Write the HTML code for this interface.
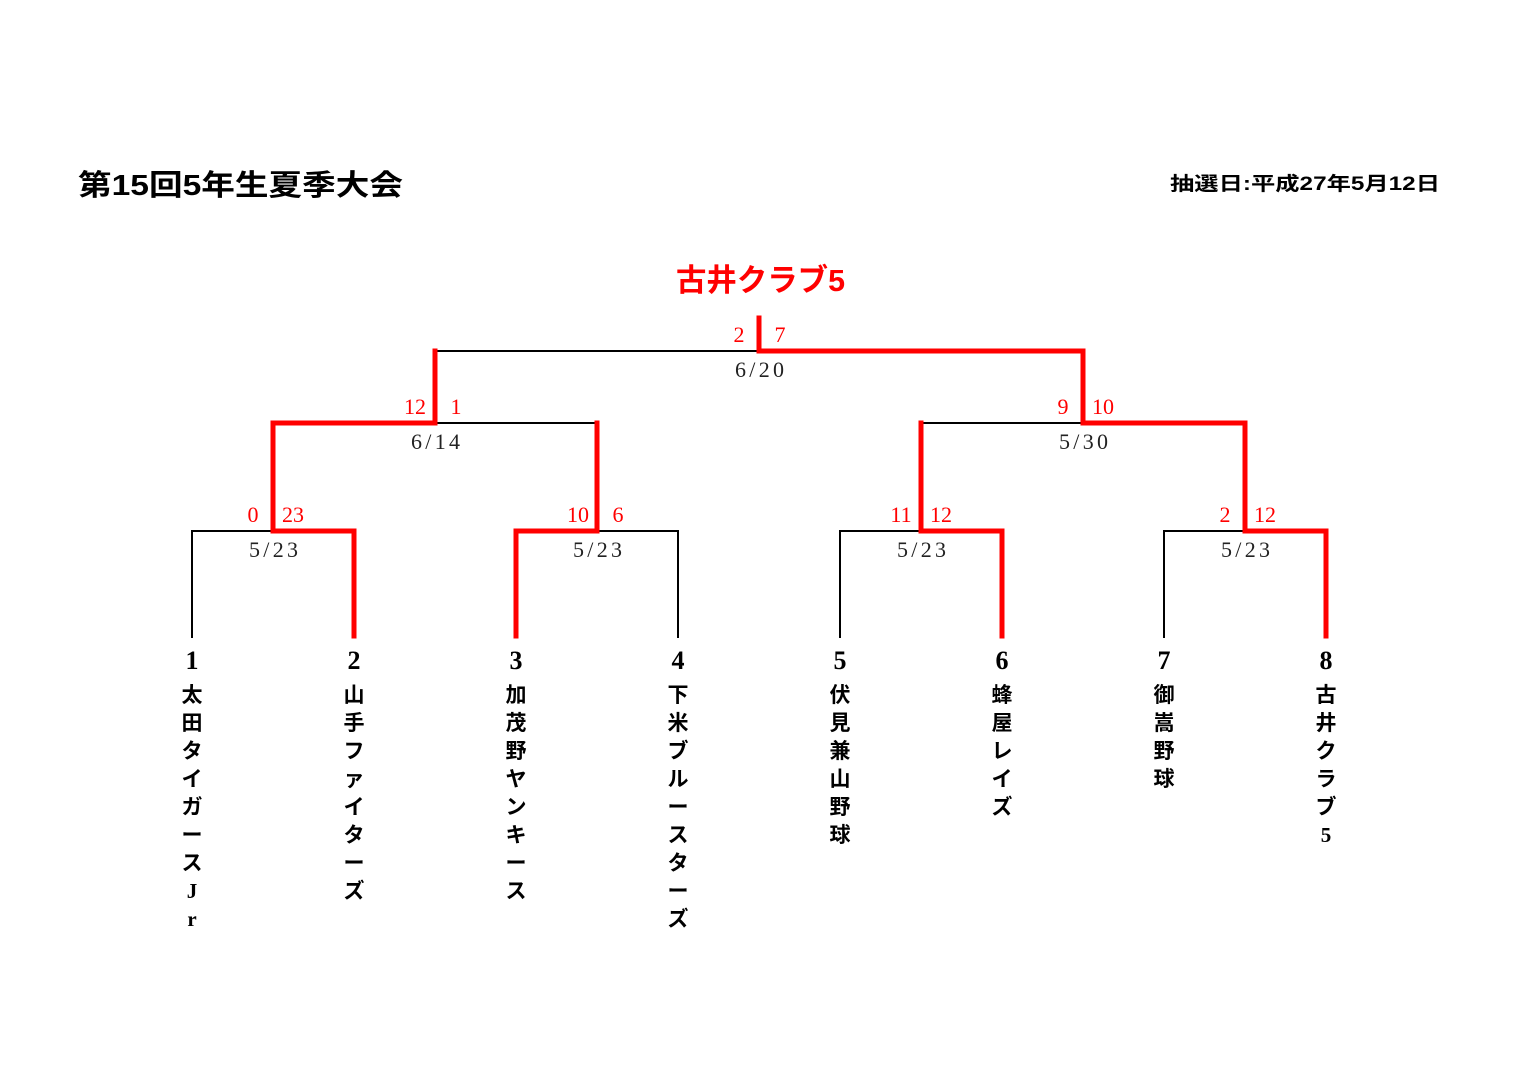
<!DOCTYPE html>
<html><head><meta charset="utf-8"><style>
html,body{margin:0;padding:0;background:#fff;width:1519px;height:1075px;overflow:hidden}
svg{display:block}
.g{font-family:"Liberation Sans","Noto Sans CJK JP",sans-serif;font-weight:bold}
.s{font-family:"Liberation Serif","Noto Serif CJK SC",serif}
</style></head><body>
<svg width="1519" height="1075" xmlns="http://www.w3.org/2000/svg">
<text x="78" y="195" class="g" font-size="29" textLength="325" lengthAdjust="spacingAndGlyphs">第15回5年生夏季大会</text>
<text x="1170" y="190" class="g" font-size="19" textLength="270" lengthAdjust="spacingAndGlyphs">抽選日:平成27年5月12日</text>
<text x="676" y="291" class="g" font-size="31" fill="#f00" textLength="169" lengthAdjust="spacingAndGlyphs">古井クラブ5</text>
<g stroke="#000" stroke-width="2" fill="none">
<path d="M435 351H759"/>
<path d="M597 423H435"/>
<path d="M921 423H1083"/>
<path d="M192 638V531H273"/>
<path d="M597 531H678V638"/>
<path d="M840 638V531H921"/>
<path d="M1164 638V531H1245"/>
</g>
<g stroke="#f00" stroke-width="5" fill="none" stroke-linecap="square">
<path d="M759 318V351H1083V423"/>
<path d="M435 351V423H273V531H354V636"/>
<path d="M597 423V531H516V636"/>
<path d="M1083 423H1245V531H1326V636"/>
<path d="M921 423V531H1002V636"/>
</g>
<g class="s" font-size="22" fill="#f00" text-anchor="middle">
<text x="739" y="342">2</text><text x="780" y="342">7</text>
<text x="415" y="414">12</text><text x="456" y="414">1</text>
<text x="1063" y="414">9</text><text x="1103" y="414">10</text>
<text x="253" y="522">0</text><text x="293" y="522">23</text>
<text x="578" y="522">10</text><text x="618" y="522">6</text>
<text x="901" y="522">11</text><text x="941" y="522">12</text>
<text x="1225" y="522">2</text><text x="1265" y="522">12</text>
</g>
<g class="s" font-size="22" fill="#222">
<text x="735" y="377" textLength="49">6/20</text>
<text x="411" y="449" textLength="49">6/14</text>
<text x="1059" y="449" textLength="49">5/30</text>
<text x="249" y="557" textLength="49">5/23</text>
<text x="573" y="557" textLength="49">5/23</text>
<text x="897" y="557" textLength="49">5/23</text>
<text x="1221" y="557" textLength="49">5/23</text>
</g>
<g class="s" font-size="26" font-weight="bold" text-anchor="middle">
<text x="192" y="669">1</text><text x="354" y="669">2</text><text x="516" y="669">3</text><text x="678" y="669">4</text>
<text x="840" y="669">5</text><text x="1002" y="669">6</text><text x="1164" y="669">7</text><text x="1326" y="669">8</text>
</g>
<g class="g" font-size="21" text-anchor="middle" fill="#000">
<text x="192" y="702">太</text><text x="192" y="730">田</text><text x="192" y="758">タ</text><text x="192" y="786">イ</text><text x="192" y="814">ガ</text><text x="192" y="842">ー</text><text x="192" y="870">ス</text><text x="192" y="898" class="s">J</text><text x="192" y="926" class="s">r</text>
<text x="354" y="702">山</text><text x="354" y="730">手</text><text x="354" y="758">フ</text><text x="354" y="786">ァ</text><text x="354" y="814">イ</text><text x="354" y="842">タ</text><text x="354" y="870">ー</text><text x="354" y="898">ズ</text>
<text x="516" y="702">加</text><text x="516" y="730">茂</text><text x="516" y="758">野</text><text x="516" y="786">ヤ</text><text x="516" y="814">ン</text><text x="516" y="842">キ</text><text x="516" y="870">ー</text><text x="516" y="898">ス</text>
<text x="678" y="702">下</text><text x="678" y="730">米</text><text x="678" y="758">ブ</text><text x="678" y="786">ル</text><text x="678" y="814">ー</text><text x="678" y="842">ス</text><text x="678" y="870">タ</text><text x="678" y="898">ー</text><text x="678" y="926">ズ</text>
<text x="840" y="702">伏</text><text x="840" y="730">見</text><text x="840" y="758">兼</text><text x="840" y="786">山</text><text x="840" y="814">野</text><text x="840" y="842">球</text>
<text x="1002" y="702">蜂</text><text x="1002" y="730">屋</text><text x="1002" y="758">レ</text><text x="1002" y="786">イ</text><text x="1002" y="814">ズ</text>
<text x="1164" y="702">御</text><text x="1164" y="730">嵩</text><text x="1164" y="758">野</text><text x="1164" y="786">球</text>
<text x="1326" y="702">古</text><text x="1326" y="730">井</text><text x="1326" y="758">ク</text><text x="1326" y="786">ラ</text><text x="1326" y="814">ブ</text><text x="1326" y="842" class="s">5</text>
</g>
</svg>
</body></html>
